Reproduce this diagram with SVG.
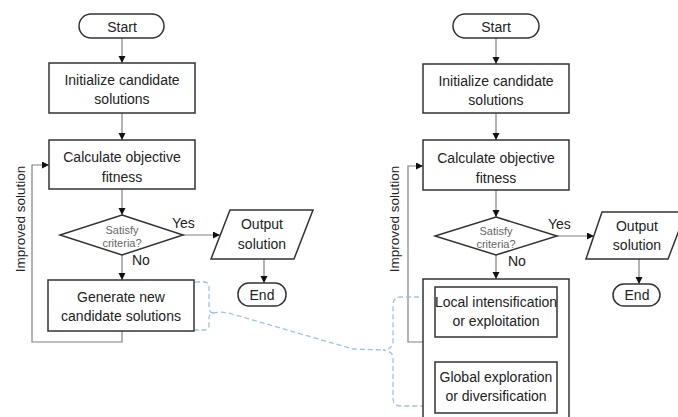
<svg xmlns="http://www.w3.org/2000/svg" width="678" height="417" viewBox="0 0 678 417">
<style>
.box{fill:#fff;stroke:#333;stroke-width:1.5}
.ln{fill:none;stroke:#808080;stroke-width:1.2}
.t{font-family:"Liberation Sans",Arial,sans-serif;font-size:14px;fill:#222;text-anchor:middle}
.s{font-family:"Liberation Sans",Arial,sans-serif;font-size:11px;fill:#666;text-anchor:middle}
.lab{font-family:"Liberation Sans",Arial,sans-serif;font-size:14px;fill:#222}
.rot{font-family:"Liberation Sans",Arial,sans-serif;font-size:13.5px;fill:#222;text-anchor:middle}
.blue{fill:none;stroke:#9dc3e6;stroke-width:1.3;stroke-dasharray:5 3}
</style>
<defs>
<marker id="ah" markerUnits="userSpaceOnUse" markerWidth="8" markerHeight="8" refX="7" refY="3.5" orient="auto-start-reverse">
<path d="M0,0 L7,3.5 L0,7 z" fill="#111"/>
</marker>
</defs>
<g id="connectors">
<path class="ln" d="M122,38 V63" marker-end="url(#ah)"/>
<path class="ln" d="M122,113 V140" marker-end="url(#ah)"/>
<path class="ln" d="M122,189 V215" marker-end="url(#ah)"/>
<path class="ln" d="M183,235 H220" marker-end="url(#ah)"/>
<path class="ln" d="M264,259 V283" marker-end="url(#ah)"/>
<path class="ln" d="M122,255 V280" marker-end="url(#ah)"/>
<path class="ln" d="M122,331 V342 H32 V165 H49" marker-end="url(#ah)"/>
<path class="ln" d="M496,38 V64" marker-end="url(#ah)"/>
<path class="ln" d="M496,113 V140" marker-end="url(#ah)"/>
<path class="ln" d="M496,190 V217" marker-end="url(#ah)"/>
<path class="ln" d="M557,236 H594" marker-end="url(#ah)"/>
<path class="ln" d="M639,259 V284" marker-end="url(#ah)"/>
<path class="ln" d="M496,255 V279" marker-end="url(#ah)"/>
<path class="ln" d="M423,342 H408 V166 H423" marker-end="url(#ah)"/>
<path class="ln" d="M496,337 V362" marker-start="url(#ah)" marker-end="url(#ah)"/>
<path class="blue" d="M195,282 L204,282 Q209,282 209,287 L209,308 Q209,312 213,313 Q209,314 209,318 L209,325 Q209,330 204,330 L195,330"/>
<path class="blue" d="M213,313 Q222,311 232,314 L353,349 L383,350"/>
<path class="blue" d="M435,297 L401,297 Q393,297 393,305 L393,342 Q393,349 383,350 Q393,351 393,358 L393,398 Q393,406 401,406 L435,406"/>
</g>
<g id="left-start"><rect class="box" x="79" y="14" width="85" height="24" rx="12"/><text class="t" x="122" y="32">Start</text></g>
<g id="left-init"><rect class="box" x="49" y="63" width="146" height="50"/><text class="t" x="122" y="85">Initialize candidate</text><text class="t" x="122" y="104">solutions</text></g>
<g id="left-calc"><rect class="box" x="49" y="140" width="146" height="49"/><text class="t" x="122" y="162">Calculate objective</text><text class="t" x="122" y="182">fitness</text></g>
<g id="left-decision"><polygon class="box" points="122,215 183,235 122,255 60,235"/><text class="s" x="122" y="234">Satisfy</text><text class="s" x="122" y="247">criteria?</text></g>
<g id="left-output"><polygon class="box" points="230,210 313,210 294,259 211,259"/><text class="t" x="262" y="229">Output</text><text class="t" x="262" y="249">solution</text></g>
<g id="left-end"><rect class="box" x="238" y="283" width="48" height="23" rx="11"/><text class="t" x="262" y="300">End</text></g>
<g id="left-generate"><rect class="box" x="48" y="280" width="146" height="51"/><text class="t" x="121" y="302">Generate new</text><text class="t" x="121" y="321">candidate solutions</text></g>
<g id="left-labels"><text class="lab" x="172" y="228">Yes</text><text class="lab" x="132" y="265">No</text><text class="rot" transform="translate(25,219) rotate(-90)">Improved solution</text></g>
<g id="right-start"><rect class="box" x="453" y="14" width="86" height="24" rx="12"/><text class="t" x="496" y="32">Start</text></g>
<g id="right-init"><rect class="box" x="423" y="64" width="146" height="49"/><text class="t" x="496" y="86">Initialize candidate</text><text class="t" x="496" y="105">solutions</text></g>
<g id="right-calc"><rect class="box" x="423" y="140" width="146" height="50"/><text class="t" x="496" y="163">Calculate objective</text><text class="t" x="496" y="183">fitness</text></g>
<g id="right-decision"><polygon class="box" points="496,217 557,236 496,255 435,236"/><text class="s" x="496" y="235">Satisfy</text><text class="s" x="496" y="248">criteria?</text></g>
<g id="right-output"><polygon class="box" points="602,212 686,212 668,259 586,259"/><text class="t" x="637" y="231">Output</text><text class="t" x="637" y="250">solution</text></g>
<g id="right-end"><rect class="box" x="613" y="284" width="47" height="22" rx="11"/><text class="t" x="637" y="300">End</text></g>
<g id="right-search"><rect class="box" x="423" y="279" width="146" height="145"/></g>
<g id="right-local"><rect class="box" x="435" y="287" width="122" height="50"/><text class="t" x="496" y="307">Local intensification</text><text class="t" x="496" y="326">or exploitation</text></g>
<g id="right-global"><rect class="box" x="435" y="362" width="122" height="51"/><text class="t" x="496" y="382">Global exploration</text><text class="t" x="496" y="401">or diversification</text></g>
<g id="right-labels"><text class="lab" x="548" y="229">Yes</text><text class="lab" x="508" y="266">No</text><text class="rot" transform="translate(399,219) rotate(-90)">Improved solution</text></g>
</svg>
